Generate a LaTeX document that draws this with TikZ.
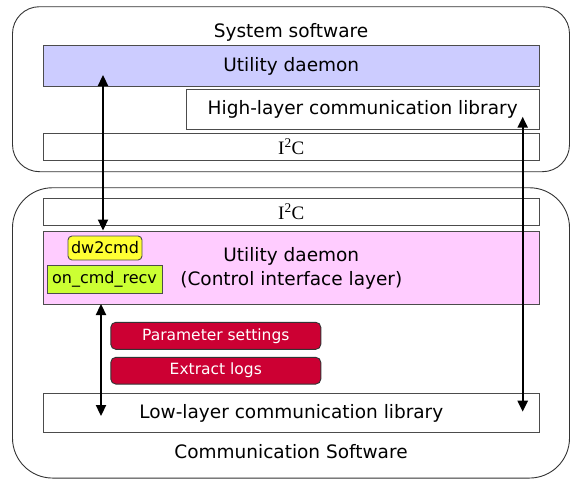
\documentclass[tikz,border=0pt]{standalone}
\usepackage{fontspec}
\setmainfont{DejaVu Sans}
\newfontfamily\serific{Liberation Serif}
\usetikzlibrary{positioning}
\usetikzlibrary{arrows.meta}
\definecolor{udblue}{HTML}{CCCCFF}
\definecolor{udpink}{HTML}{FFCCFF}
\definecolor{cmdyellow}{HTML}{FFFF33}
\definecolor{recvgreen}{HTML}{CCFF33}
\definecolor{taskred}{HTML}{CC0033}

\begin{document}
\begin{tikzpicture}[x=1pt,y=-1pt,
		outer/.style={draw=black!80, line width=0.9pt},
		layer/.style={draw=black!70, line width=0.9pt, inner sep=0pt, align=center, font=\fontsize{18.5}{24}\selectfont},
		tag/.style={draw=black!70, line width=0.9pt, inner sep=0pt, font=\fontsize{16}{18}\selectfont},
		task/.style={draw=black!80, fill=taskred, text=white, rounded corners=5pt, line width=0.9pt, inner sep=0pt, minimum width=210, minimum height=27, font=\fontsize{15.5}{18}\selectfont},
		link/.style={{Triangle[length=11pt,width=10pt]}-{Triangle[length=11pt,width=10pt]}, line width=2.3pt}]
		\useasboundingbox (0,0) rectangle (571,479);
		% system side
		\node [outer, rounded corners=27pt, minimum width=557, minimum height=165] (SysBox) at (291,89.2) {};
		\node [font=\fontsize{18.5}{22}\selectfont] (SysLabel) at (291,32) {System software};
		\node [layer, fill=udblue, minimum width=496, minimum height=40.3] (1Daemon) at (291.3,65.9) {Utility daemon};
		\node [layer, fill=white, minimum width=353, minimum height=40] (1High) at (362.7,109.3) {High-layer communication library};
		\node [layer, fill=white, minimum width=496, minimum height=26.7, font=\serific\fontsize{19}{22}\selectfont] (1I2C) at (291.3,146.7) {I\textsuperscript{2}C};
		% communication side
		\node [outer, rounded corners=40pt, minimum width=557, minimum height=290.3] (ComBox) at (291,332.9) {};
		\node [font=\fontsize{18.5}{22}\selectfont] (ComLabel) at (291,452) {Communication Software};
		\node [layer, fill=white, minimum width=496, minimum height=26.5, font=\serific\fontsize{19}{22}\selectfont] (2I2C) at (291.3,211.7) {I\textsuperscript{2}C};
		\node [layer, fill=udpink, minimum width=496, minimum height=72.3] (2Daemon) at (291.3,267.9) {Utility daemon\\(Control interface layer)};
		\node [tag, fill=cmdyellow, rounded corners=4pt, minimum width=74, minimum height=24] (2Cmd) at (105,248) {dw2cmd};
		\node [tag, fill=recvgreen, minimum width=115, minimum height=28] (2Recv) at (104.5,279) {on\_cmd\_recv};
		\node [task] (3Param) at (215.8,335.8) {Parameter settings};
		\node [task, minimum height=26.7] (3Logs) at (215.8,370.7) {Extract logs};
		\node [layer, fill=white, minimum width=496, minimum height=39.4] (2Low) at (291.3,413) {Low-layer communication library};
		% arrow ends
		\coordinate (1DaemonTip) at (103,75);
		\coordinate (2CmdTip) at (103,230.5);
		\coordinate (1HighTip) at (522.7,116.7);
		\coordinate (2LowTipR) at (522.7,411.7);
		\coordinate (2RecvTip) at (101,304);
		\coordinate (2LowTipL) at (101,416);
		\draw [link] (1DaemonTip) -- (2CmdTip);
		\draw [link] (1HighTip) -- (2LowTipR);
		\draw [link] (2RecvTip) -- (2LowTipL);
		
		\end{tikzpicture}
\end{document}
